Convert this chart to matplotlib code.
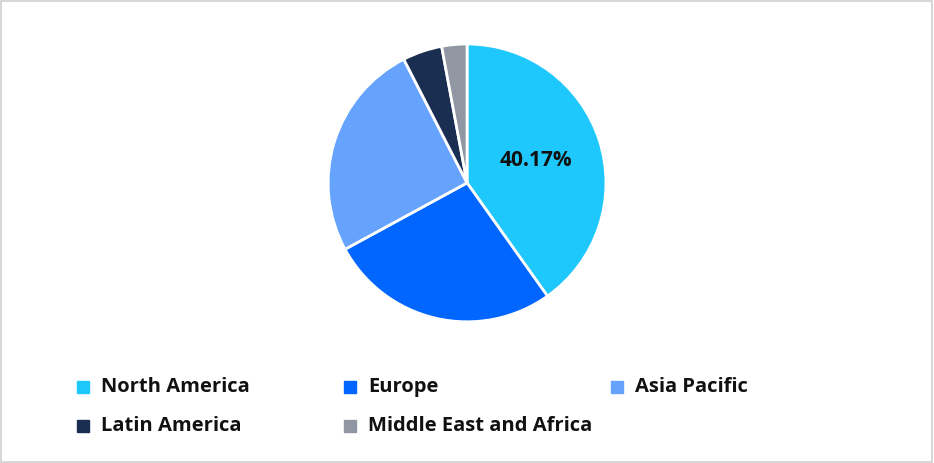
import matplotlib
matplotlib.use("Agg")
import matplotlib.pyplot as plt
from matplotlib.patches import Rectangle

regions = ["North America", "Europe", "Asia Pacific", "Latin America", "Middle East and Africa"]
shares = [40.17, 26.9, 25.4, 4.6, 2.93]
colors = ["#1ec8fc", "#0066ff", "#66a3ff", "#1a2e52", "#9097a3"]

plt.rcParams['font.family'] = ['Open Sans', 'DejaVu Sans']
fig = plt.figure(figsize=(9.34, 4.63), dpi=100)
fig.patches.append(Rectangle((0.001, 0.002), 0.997, 0.995, transform=fig.transFigure,
                             fill=False, edgecolor="#d0d0d0", lw=1.2))
ax = fig.add_axes([0.5 - 0.1488, 0.605 - 0.3, 0.2977, 0.6])
shown = [regions[0]]
it = iter(regions)
def fmt(p):
    name = next(it)
    return f"{p:.2f}%" if name in shown else ""
wedges, texts, autotexts = ax.pie(shares, colors=colors, startangle=90, counterclock=False,
    autopct=fmt, pctdistance=0.52, wedgeprops=dict(edgecolor="white", linewidth=2))
for t in autotexts:
    t.set_fontsize(15); t.set_fontweight("bold"); t.set_color("#111111")
ax.set_xlim(-1.0, 1.0); ax.set_ylim(-1.0, 1.0); ax.set_aspect("equal")
ax.axis("off")

xs = [83, 350, 617]
ys = [387, 426]
for i, (r, c) in enumerate(zip(regions, colors)):
    x = xs[i % 3]; y = ys[i // 3]
    fig.patches.append(Rectangle(((x - 6) / 934, 1 - (y + 6) / 463), 12 / 934, 12 / 463,
                                 transform=fig.transFigure, color=c))
    fig.text((x + 18) / 934, 1 - y / 463, r, fontsize=14.5, fontweight="bold",
             va="center", ha="left", color="#111111")
fig.savefig("out.png", dpi=100)
